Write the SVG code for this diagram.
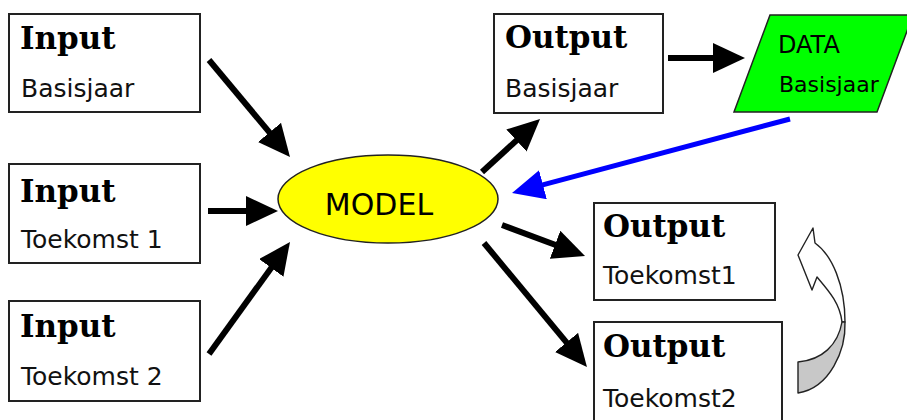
<svg xmlns="http://www.w3.org/2000/svg" width="907" height="420" viewBox="0 0 907 420">
<style>
.box{fill:#fff;stroke:#222;stroke-width:2}
.hd{font-family:"DejaVu Serif",serif;font-weight:bold;font-size:31px;fill:#000}
.sub{font-family:"DejaVu Sans",sans-serif;font-size:25px;fill:#111}
.dt{font-family:"DejaVu Sans",sans-serif;font-size:22px;fill:#000}
.dt.big{font-size:24px}
.blk{stroke:#000;stroke-width:6;fill:none}
.blu{stroke:#0000ff;stroke-width:5;fill:none}
</style>
<defs>
<marker id="ah" viewBox="0 0 32 30" refX="10" refY="15" markerWidth="32" markerHeight="30" markerUnits="userSpaceOnUse" orient="auto">
<path d="M0,0 L32,15 L0,30 Z" fill="#000"/>
</marker>
<marker id="ahb" viewBox="0 0 32 30" refX="10" refY="15" markerWidth="32" markerHeight="30" markerUnits="userSpaceOnUse" orient="auto">
<path d="M0,0 L32,15 L0,30 Z" fill="#0000ff"/>
</marker>
</defs>
<g id="input-basisjaar">
<rect class="box" x="9" y="14" width="191" height="98"/>
<text class="hd" x="20" y="49">Input</text>
<text class="sub" x="21" y="97">Basisjaar</text>
</g>
<g id="input-toekomst1">
<rect class="box" x="9" y="164" width="191" height="99"/>
<text class="hd" x="20" y="202">Input</text>
<text class="sub" x="21" y="248" xml:space="preserve">Toekomst 1</text>
</g>
<g id="input-toekomst2">
<rect class="box" x="9" y="301" width="191" height="100"/>
<text class="hd" x="20" y="337">Input</text>
<text class="sub" x="21" y="385" xml:space="preserve">Toekomst 2</text>
</g>
<g id="model">
<ellipse cx="388" cy="199" rx="110" ry="44" fill="#ffff00" stroke="#222" stroke-width="1.5"/>
<text x="379" y="215" text-anchor="middle" font-family="DejaVu Sans, sans-serif" font-size="30" fill="#000">MODEL</text>
</g>
<g id="output-basisjaar">
<rect class="box" x="494" y="14" width="169" height="99"/>
<text class="hd" x="505" y="48">Output</text>
<text class="sub" x="505" y="97">Basisjaar</text>
</g>
<g id="data-basisjaar">
<polygon points="770,15 913,15 877,112 734,112" fill="#00ff00" stroke="#222" stroke-width="1.5"/>
<text class="dt big" x="778" y="53">DATA</text>
<text class="dt" x="779" y="92">Basisjaar</text>
</g>
<g id="output-toekomst1">
<rect class="box" x="594" y="203" width="181" height="97"/>
<text class="hd" x="603" y="237">Output</text>
<text class="sub" x="603" y="284">Toekomst1</text>
</g>
<g id="output-toekomst2">
<rect class="box" x="594" y="322" width="188" height="110"/>
<text class="hd" x="603" y="357">Output</text>
<text class="sub" x="603" y="407">Toekomst2</text>
</g>
<g id="curved-arrow" stroke="#222" stroke-width="1.4" stroke-linejoin="round">
<path d="M813,228 L798,255 L812,290 L817,277 C828,290 840,303 842,322 L845,322 C845,285 832,255 815,243 Z" fill="#fff"/>
<path d="M845,322 C846,350 830,388 798,393 L798,362 C822,360 838,345 842,322 Z" fill="#c8c8c8"/>
</g>
<g id="connectors">
<line class="blk" x1="209" y1="60" x2="275.9" y2="140.1" marker-end="url(#ah)"/>
<line class="blk" x1="208" y1="211" x2="256" y2="211" marker-end="url(#ah)"/>
<line class="blk" x1="209" y1="354" x2="277.1" y2="259.8" marker-end="url(#ah)"/>
<line class="blk" x1="482" y1="172" x2="523.8" y2="133.8" marker-end="url(#ah)"/>
<line class="blk" x1="668" y1="58" x2="723" y2="58" marker-end="url(#ah)"/>
<line class="blu" x1="790" y1="119" x2="533.3" y2="187.3" marker-end="url(#ahb)"/>
<line class="blk" x1="502" y1="225" x2="564.4" y2="248.3" marker-end="url(#ah)"/>
<line class="blk" x1="484" y1="243" x2="572.9" y2="350.1" marker-end="url(#ah)"/>
</g>
</svg>
